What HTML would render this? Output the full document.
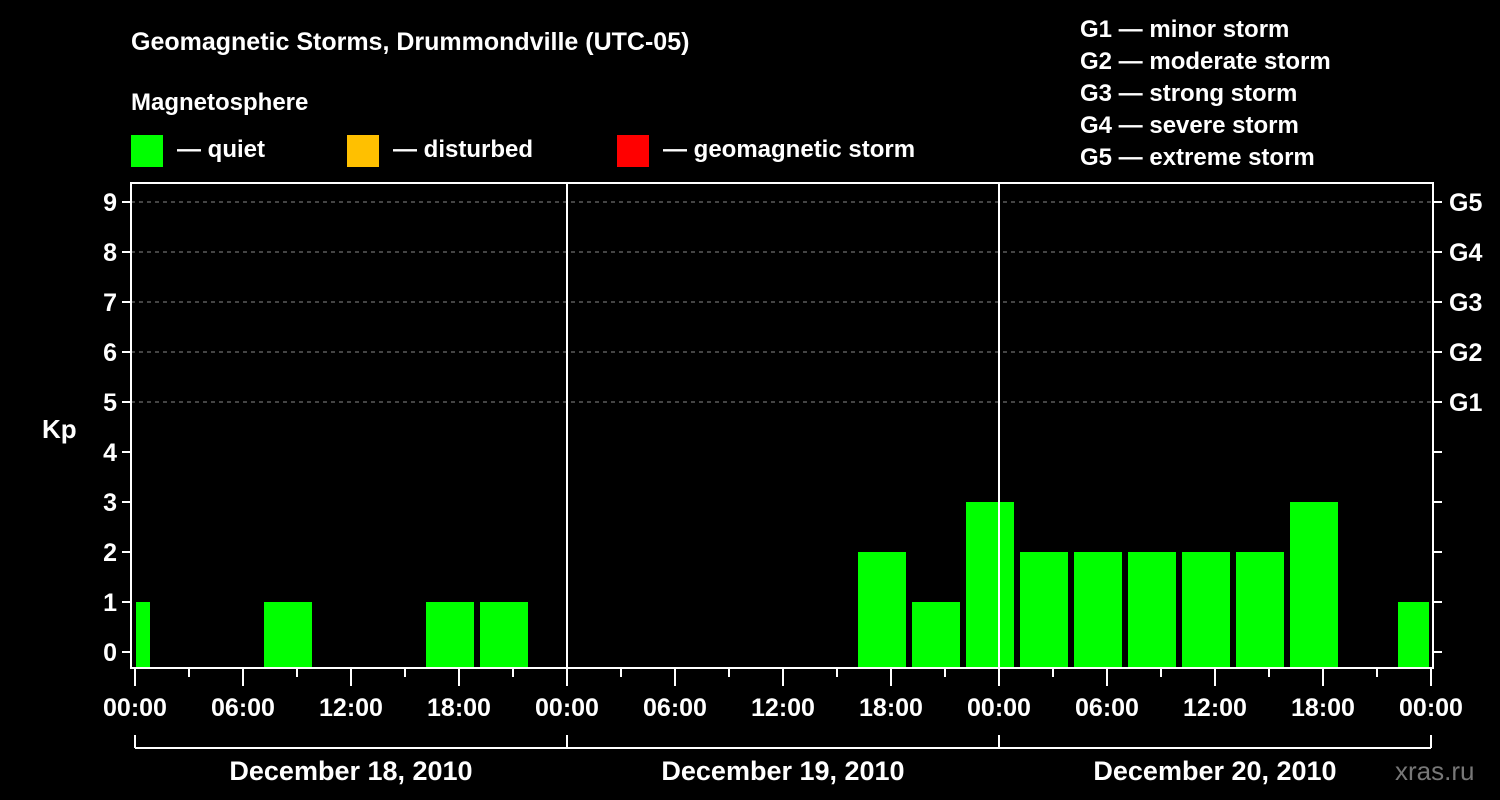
<!DOCTYPE html>
<html><head><meta charset="utf-8"><style>
html,body{margin:0;padding:0;background:#000;}
svg{display:block;font-family:"Liberation Sans",Arial,sans-serif;font-weight:bold;}
</style></head><body>
<svg id="chart" width="1500" height="800" viewBox="0 0 1500 800" xmlns="http://www.w3.org/2000/svg">
<rect x="0" y="0" width="1500" height="800" fill="#000"/>
<text x="131" y="50" fill="#fff" font-size="25">Geomagnetic Storms, Drummondville (UTC-05)</text>
<text x="131" y="110" fill="#fff" font-size="24">Magnetosphere</text>
<g><rect x="131" y="135" width="32" height="32" fill="#00ff00"/><text x="177" y="157" fill="#fff" font-size="24">— quiet</text></g>
<g><rect x="347" y="135" width="32" height="32" fill="#ffc000"/><text x="393" y="157" fill="#fff" font-size="24">— disturbed</text></g>
<g><rect x="617" y="135" width="32" height="32" fill="#ff0000"/><text x="663" y="157" fill="#fff" font-size="24">— geomagnetic storm</text></g>
<g fill="#fff" font-size="24">
<text x="1080" y="37">G1 — minor storm</text>
<text x="1080" y="69">G2 — moderate storm</text>
<text x="1080" y="101">G3 — strong storm</text>
<text x="1080" y="133">G4 — severe storm</text>
<text x="1080" y="165">G5 — extreme storm</text>
</g>
<text x="42" y="438" fill="#fff" font-size="26">Kp</text>
<g id="plot"></g>
<text x="1395" y="780" fill="#777" font-size="26" font-weight="normal">xras.ru</text>
</svg>
<script>
// bins are 3-hour intervals in local time, starting at hour -2 (19:00 previous day)
const binStartHour = -2;
const kpValues = [1,0,0,1,0,0,1,1,0, 0,0,0,0,0,2,1,3, 2,2,2,2,2,3,0,1];
const yTicks = [0,1,2,3,4,5,6,7,8,9];
const gLabels = ["G1","G2","G3","G4","G5"];
const xLabels = ["00:00","06:00","12:00","18:00","00:00","06:00","12:00","18:00","00:00","06:00","12:00","18:00","00:00"];
const dayLabels = ["December 18, 2010","December 19, 2010","December 20, 2010"];

const NS="http://www.w3.org/2000/svg";
const plot=document.getElementById('plot');
const L=131,R=1433,T=183,B=668;
const x0=135, pxh=18, totalH=72;
const xs=h=>x0+h*pxh;
const ys=k=>652-k*50;
function mk(tag,attrs,parent){const e=document.createElementNS(NS,tag);for(const k in attrs)e.setAttribute(k,attrs[k]);(parent||plot).appendChild(e);return e;}

// grid
for(let k=5;k<=9;k++){
  const g=mk('line',{x1:L,x2:R,y1:ys(k),y2:ys(k),stroke:'#888','stroke-dasharray':'4,4','stroke-width':1});
  
  
}
// bars
kpValues.forEach((v,i)=>{
  if(v<=0) return;
  let h0=Math.max(0,binStartHour+i*3), h1=Math.min(totalH,binStartHour+i*3+3);
  let xa=xs(h0)+(h0===binStartHour+i*3?3:1), xb=xs(h1)-(h1===binStartHour+i*3+3?3:2);
  const color=v>=5?'#ff0000':(v>=4?'#ffc000':'#00ff00');
  const r=mk('rect',{x:xa,y:ys(v),width:xb-xa,height:B-ys(v),fill:color});
  
  
});
// day separators
[24,48].forEach(h=>{
  const l=mk('line',{x1:xs(h),x2:xs(h),y1:T,y2:B,stroke:'#fff','stroke-width':2});
  
  
});
// frame
const fr=mk('rect',{x:L,y:T,width:R-L,height:B-T,fill:'none',stroke:'#fff','stroke-width':2});


// y ticks
yTicks.forEach(k=>{
  mk('line',{x1:L-9,x2:L,y1:ys(k),y2:ys(k),stroke:'#fff','stroke-width':2});
  mk('line',{x1:R,x2:R+9,y1:ys(k),y2:ys(k),stroke:'#fff','stroke-width':2});
  const t=mk('text',{x:L-14,y:ys(k)+9,fill:'#fff','font-size':25,'text-anchor':'end'});
  t.textContent=k;
  
  
});
gLabels.forEach((g,i)=>{
  const t=mk('text',{x:1449,y:ys(5+i)+9,fill:'#fff','font-size':25});
  t.textContent=g;
  
  
});
// x ticks
for(let h=0;h<=totalH;h+=3){
  const major=h%6===0;
  mk('line',{x1:xs(h),x2:xs(h),y1:B,y2:major?686:677,stroke:'#fff','stroke-width':2});
}
xLabels.forEach((s,i)=>{
  const t=mk('text',{x:xs(i*6),y:716,fill:'#fff','font-size':25,'text-anchor':'middle'});
  t.textContent=s;
  
  
});
// day bracket
mk('line',{x1:xs(0),x2:xs(72),y1:748,y2:748,stroke:'#fff','stroke-width':2});
for(let d=0;d<=3;d++) mk('line',{x1:xs(d*24),x2:xs(d*24),y1:735,y2:748,stroke:'#fff','stroke-width':2});
dayLabels.forEach((s,i)=>{
  const t=mk('text',{x:xs(i*24+12),y:780,fill:'#fff','font-size':27,'text-anchor':'middle'});
  t.textContent=s;
  
  
});
</script>
</body></html>
